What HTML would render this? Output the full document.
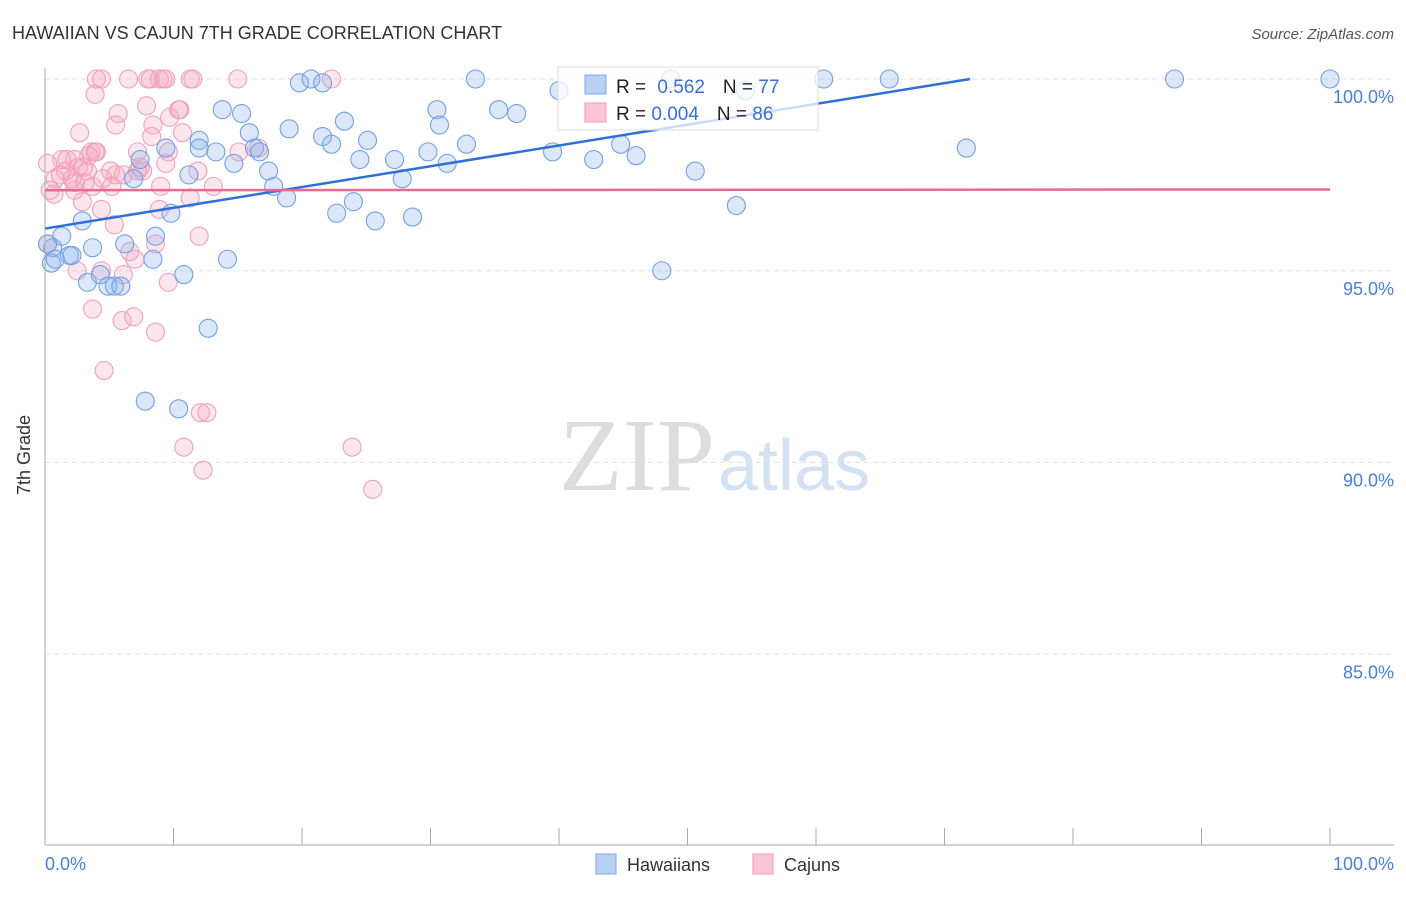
<!DOCTYPE html>
<html><head><meta charset="utf-8"><style>
body{margin:0;background:#fff;font-family:"Liberation Sans",sans-serif}
svg text{font-family:"Liberation Sans",sans-serif}
</style></head><body>
<svg id="c" width="1406" height="892">
<text x="12" y="39" font-size="18" fill="#333">HAWAIIAN VS CAJUN 7TH GRADE CORRELATION CHART</text>
<text x="1394" y="39" font-size="15" fill="#555" font-style="italic" text-anchor="end">Source: ZipAtlas.com</text>
<text x="715" y="490" font-size="104" fill="#ddd" text-anchor="end" style="font-family:'Liberation Serif',serif">ZIP</text>
<text x="718" y="490" font-size="72" fill="#d3e1f3">atlas</text>
<g id="grid"></g><g id="pts"></g><g id="lines"></g>
<line x1="45" y1="68" x2="45" y2="845" stroke="#aaa"/>
<line x1="45" y1="845" x2="1394" y2="845" stroke="#aaa"/>
<text x="30" y="455" font-size="18" fill="#333" text-anchor="middle" transform="rotate(-90 30 455)">7th Grade</text>
<text x="45" y="870" font-size="18" fill="#4a7fd6">0.0%</text>
<text x="1394" y="870" font-size="18" fill="#4a7fd6" text-anchor="end">100.0%</text>
<g>
<rect x="558" y="67" width="260" height="63" fill="rgba(255,255,255,0.75)" stroke="#ddd"/>
<rect x="585" y="75" width="21" height="19" fill="#b7d0f3" stroke="#7fa8e6"/>
<rect x="585" y="103" width="21" height="19" fill="#fac5d5" stroke="#ee9ab4"/>
<text x="616" y="93" font-size="19" fill="#222">R = <tspan fill="#3a70d0" dx="6">0.562</tspan><tspan dx="18">N = </tspan><tspan fill="#3a70d0">77</tspan></text>
<text x="616" y="120" font-size="19" fill="#222">R = <tspan fill="#3a70d0">0.004</tspan><tspan dx="18">N = </tspan><tspan fill="#3a70d0">86</tspan></text>
</g>
<rect x="596" y="854" width="20" height="20" fill="#b7d0f3" stroke="#7fa8e6"/>
<text x="627" y="871" font-size="18" fill="#333">Hawaiians</text>
<rect x="753" y="854" width="20" height="20" fill="#fac5d5" stroke="#ee9ab4"/>
<text x="784" y="871" font-size="18" fill="#333">Cajuns</text>
</svg>
<script>
const yTicks=[100,95,90,85];
const xTicks=[0,10,20,30,40,50,60,70,80,90,100];
const hawX=[19.8,20.7,21.6,33.5,40,48.7,60.6,65.7,87.9,100,13.8,15.3,15.9,19,21.6,22.3,23.3,25.1,30.5,30.7,32.8,35.3,36.7,39.5,42.7,44.8,46,50.6,53.8,71.7,9.4,12,12,13.3,14.7,16.3,16.7,17.4,17.8,18.8,24.5,27.2,27.8,29.8,31.3,22.7,24,25.7,28.6,7.4,6.9,11.2,9.8,2.9,1.3,0.6,1.9,2.1,3.7,6.2,8.6,8.4,0.5,3.3,4.3,4.9,5.4,5.9,10.8,14.2,12.7,7.8,10.4,48,0.2,0.8,54.5];
const hawY=[99.9,100,99.9,100,99.7,100,100,100,100,100,99.2,99.1,98.6,98.7,98.5,98.3,98.9,98.4,99.2,98.8,98.3,99.2,99.1,98.1,97.9,98.3,98,97.6,96.7,98.2,98.2,98.4,98.2,98.1,97.8,98.2,98.1,97.6,97.2,96.9,97.9,97.9,97.4,98.1,97.8,96.5,96.8,96.3,96.4,97.9,97.4,97.5,96.5,96.3,95.9,95.6,95.4,95.4,95.6,95.7,95.9,95.3,95.2,94.7,94.9,94.6,94.6,94.6,94.9,95.3,93.5,91.6,91.4,95,95.7,95.3,99.7];
const cajX=[4,4.4,6.5,8,8.2,8.9,9.2,9.4,11.3,11.5,15,22.3,3.9,5.7,7.9,8.4,10.5,10.4,9.7,8.3,10.7,2.7,5.5,1.7,2.3,3.6,3.9,4,1.6,2.6,3.4,3,1.2,2.1,3.1,3.7,4.5,5.1,5.5,7.2,7.6,6.1,7.4,5.2,7.2,9.6,9,9.4,11.9,15.1,16.6,13.1,11.3,4.4,8.9,5.4,12,2.9,0.7,0.8,0.2,7,8.6,6.6,2.5,4.4,9.6,6.1,3.7,6,6.9,8.6,4.6,12.1,12.6,10.8,12.3,23.9,25.5,0.2,0.4,2.3,3.3,1.3,2.3];
const cajY=[100,100,100,100,100,100,100,100,100,100,100,100,99.6,99.1,99.3,98.8,99.2,99.2,99,98.5,98.6,98.6,98.8,97.9,97.9,98.1,98.1,98.1,97.6,97.7,98,97.7,97.5,97.4,97.3,97.2,97.4,97.6,97.5,97.6,97.6,97.5,97.7,97.2,98.1,98.1,97.2,97.8,97.6,98.1,98.2,97.2,96.9,96.6,96.6,96.2,95.9,96.8,97,97.4,97.8,95.3,95.7,95.5,95,95,94.7,94.9,94,93.7,93.8,93.4,92.4,91.3,91.3,90.4,89.8,90.4,89.3,95.7,97.1,97.1,97.6,97.9,97.3];
const lineX=[0,72],hawLineY=[96.1,100],cajLineY=[97.1,97.12];
const X=v=>45+v*12.85, Y=v=>79+(100-v)*38.35;
const NS='http://www.w3.org/2000/svg';
const grid=document.getElementById('grid'),pts=document.getElementById('pts'),lines=document.getElementById('lines');
function mk(t,a,p){const e=document.createElementNS(NS,t);for(const k in a)e.setAttribute(k,a[k]);p.appendChild(e);return e;}
yTicks.forEach(v=>{
 const l=mk('line',{x1:45,x2:1394,y1:Y(v),y2:Y(v),stroke:'#e2e2e2','stroke-dasharray':'5,4'},grid);
 
 
 const t=mk('text',{x:1394,y:Y(v)+24,'font-size':18,fill:'#4a7fd6','text-anchor':'end'},grid);
 t.textContent=v.toFixed(1)+'%';
 
 
});
xTicks.forEach(v=>{
 const l=mk('line',{x1:X(v),x2:X(v),y1:828,y2:845,stroke:'#aaa'},grid);
 
 
});
function series(xs,ys,fill,stroke,name){
 xs.forEach((x,i)=>{
  const c=mk('circle',{cx:X(x),cy:Y(ys[i]),r:9,fill:fill,stroke:stroke,'stroke-width':1.1},pts);
  
  
 });
}
series(cajX,cajY,'rgba(246,165,190,0.28)','#f0a0b8','cajun-point');
series(hawX,hawY,'rgba(140,180,235,0.3)','#739fe2','hawaiian-point');
const hl=mk('line',{x1:X(lineX[0]),y1:Y(hawLineY[0]),x2:X(lineX[1]),y2:Y(hawLineY[1]),stroke:'#2f6fd6','stroke-width':2.5},lines);


const cl=mk('line',{x1:X(0),y1:Y(cajLineY[0]),x2:X(100),y2:Y(cajLineY[1]),stroke:'#e86a90','stroke-width':2.5},lines);


</script>
</body></html>
